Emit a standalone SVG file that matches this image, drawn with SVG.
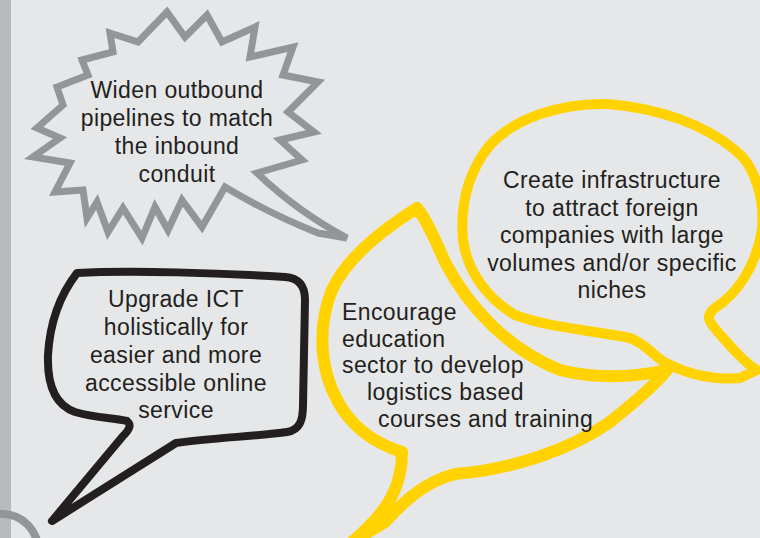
<svg xmlns="http://www.w3.org/2000/svg" width="760" height="538" viewBox="0 0 760 538">
<style>
.t{font-family:"Liberation Sans",Arial,sans-serif;font-size:23px;letter-spacing:0.4px;fill:#231f20}
.c{text-anchor:middle}
.gray{fill:none;stroke:#939598;stroke-width:7;stroke-linejoin:miter;stroke-miterlimit:3}
.blk{fill:none;stroke:#231f20;stroke-width:8;stroke-linejoin:round}
.yel{fill:none;stroke:#ffd200;stroke-width:12;stroke-linejoin:round}
</style>
<rect width="760" height="538" fill="#e6e7e8"/>
<rect width="11" height="538" fill="#b9babd"/>
<circle cx="2" cy="550" r="36" fill="none" stroke="#939598" stroke-width="8"/>
<g id="connectors"/>
<g id="widen">
<path class="gray" d="M110,33 L138,42 L167,12 L185,37 L207,15 L222,42 L255,27 L250,57 L293,47 L283,75 L318,82 L288,112 L314,132 L280,140 L302,160 L257,173 Q298,212 347,238 L318,233 Q270,214 225,187 L202,227 L182,200 L168,230 L155,207 L142,238 L123,208 L108,232 L97,202 L87,218 L83,190 L55,192 L70,163 L33,157 L60,138 L37,128 L63,105 L57,87 L88,75 L82,60 L113,52 Z"/>
<text class="t c" x="177" y="98">Widen outbound</text>
<text class="t c" x="177" y="126">pipelines to match</text>
<text class="t c" x="177" y="154">the inbound</text>
<text class="t c" x="177" y="182">conduit</text>
</g>
<g id="upgrade">
<path class="blk" d="M77,273 C60,295 50,320 48,355 C47,385 55,405 75,412 C95,418 115,418 127,421 C132,425 129,430 123,436 L52,521 L176,443 C210,438 260,436 287,432 C300,430 303,420 303,405 L305,300 C305,285 298,278 285,277 C220,273 130,270 77,273 Z"/>
<text class="t c" x="176" y="307">Upgrade ICT</text>
<text class="t c" x="176" y="335">holistically for</text>
<text class="t c" x="176" y="363">easier and more</text>
<text class="t c" x="176" y="391">accessible online</text>
<text class="t c" x="176" y="418">service</text>
</g>
<g id="encourage">
<path class="yel" d="M417,208 C390,225 348,255 332,290 C316,330 320,375 343,410 C358,432 380,445 402,452 C402,485 390,510 352,542 L385,522 C405,500 425,482 455,474 C510,470 570,450 610,422 C635,402 655,385 667,370 C640,376 600,380 560,370 C510,350 470,310 445,262 C435,240 428,222 417,208 Z"/>
<text class="t" x="342" y="320">Encourage</text>
<text class="t" x="342" y="347">education</text>
<text class="t" x="342" y="373">sector to develop</text>
<text class="t" x="367" y="400">logistics based</text>
<text class="t" x="378" y="427">courses and training</text>
</g>
<g id="create">
<path class="yel" style="stroke-width:10" d="M757,370 C748,365 738,355 725,340 C712,325 702,318 715,308 C735,295 755,270 762,230 C765,200 755,165 735,150 C705,125 660,108 607,104 C560,103 515,118 490,145 C468,172 460,205 463,240 C468,275 490,300 515,315 C550,328 590,330 630,338 C648,345 655,358 668,364 C690,375 715,380 740,378 Z"/>
<text class="t c" x="612" y="188">Create infrastructure</text>
<text class="t c" x="612" y="216">to attract foreign</text>
<text class="t c" x="612" y="243">companies with large</text>
<text class="t c" x="612" y="271">volumes and/or specific</text>
<text class="t c" x="612" y="298">niches</text>
</g>
</svg>
